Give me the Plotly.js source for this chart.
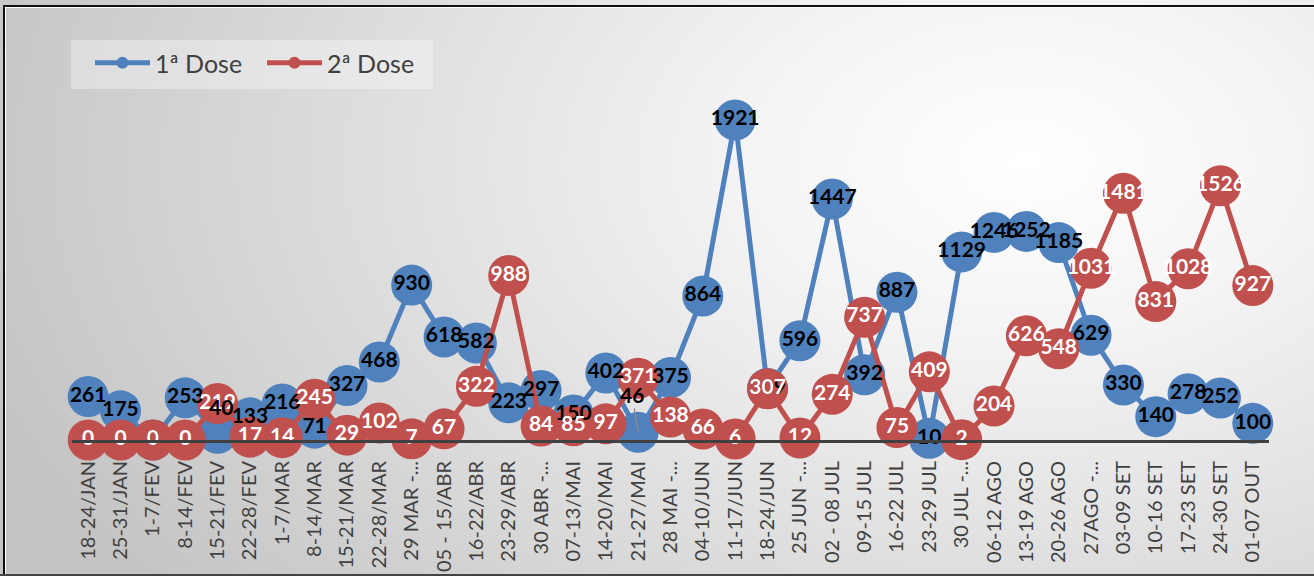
<!DOCTYPE html>
<html>
<head>
<meta charset="utf-8">
<script src="https://cdn.plot.ly/plotly-3.0.1.min.js"></script>
<style>
  html, body { margin: 0; padding: 0; }
  #wrap {
    position: absolute; left: 0; top: 0; width: 1314px; height: 576px; overflow: hidden;
    background: radial-gradient(ellipse 1100px 700px at 78% 28%, #ffffff 0%, #f4f4f4 25%, #c4c4c4 100%);
  }
  #frame1 { position: absolute; left: 3px; top: 5px; right: -10px; bottom: 2px;
    border-top: 2px solid #111; border-left: 2px solid #111; }
  #frame2 { position: absolute; left: 5px; top: 7px; right: -10px; bottom: 2px;
    border-top: 1px solid #fff; border-left: 1px solid #fff; }
  #bottomline { position: absolute; left: 0; right: 0; bottom: 0; height: 2px; background: #444; }
  #chart { position: absolute; left: 0; top: 0; width: 1314px; height: 576px; }
</style>
</head>
<body>
<div id="wrap">
  <div id="frame1"></div>
  <div id="frame2"></div>
  <div id="bottomline"></div>
  <div id="chart"></div>
</div>
<script>
const categories = [
  "18-24/JAN", "25-31/JAN", "1-7/FEV", "8-14/FEV", "15-21/FEV", "22-28/FEV",
  "1-7/MAR", "8-14/MAR", "15-21/MAR", "22-28/MAR", "29 MAR -...", "05 - 15/ABR",
  "16-22/ABR", "23-29/ABR", "30 ABR -...", "07-13/MAI", "14-20/MAI", "21-27/MAI",
  "28 MAI -...", "04-10/JUN", "11-17/JUN", "18-24/JUN", "25 JUN -...", "02 - 08 JUL",
  "09-15 JUL", "16-22 JUL", "23-29 JUL", "30 JUL -...", "06-12 AGO", "13-19 AGO",
  "20-26 AGO", "27AGO -...", "03-09 SET", "10-16 SET", "17-23 SET", "24-30 SET", "01-07 OUT"
];
const dose1 = [261, 175, 0, 253, 40, 133, 216, 71, 327, 468, 930, 618, 582, 223, 297, 150, 402, 46,
  375, 864, 1921, 309, 596, 1447, 392, 887, 10, 1129, 1246, 1252, 1185, 629, 330, 140, 278, 252, 100];
const dose2 = [0, 0, 0, 0, 219, 17, 14, 245, 29, 102, 7, 67, 322, 988, 84, 85, 97, 371,
  138, 66, 6, 307, 12, 274, 737, 75, 409, 2, 204, 626, 548, 1031, 1481, 831, 1028, 1526, 927];
const seriesNames = ["1ª Dose", "2ª Dose"];

const BLUE = "#4F81BD", RED = "#C0504D";
const movedBlue = [4, 17]; // labels drawn as annotations (moved off the marker)

const blueText = dose1.map((v, i) => movedBlue.includes(i) ? "" : String(v));
const redText = dose2.map(v => String(v));

const labelFont = { family: "Lato, 'Open Sans', sans-serif", size: 21, color: "#000000", weight: 700 };

const traces = [
  { x: categories, y: dose1, name: seriesNames[0], type: "scatter", mode: "lines+markers",
    line: { color: BLUE, width: 5 }, marker: { color: BLUE, size: 41 }, cliponaxis: false, hoverinfo: "skip" },
  { x: categories, y: dose2, name: seriesNames[1], type: "scatter", mode: "lines+markers",
    line: { color: RED, width: 5 }, marker: { color: RED, size: 41 }, cliponaxis: false, hoverinfo: "skip" },
  { x: categories, y: dose1, type: "scatter", mode: "text", text: blueText, textposition: "middle center",
    textfont: labelFont, showlegend: false, cliponaxis: false, hoverinfo: "skip" },
  { x: categories, y: dose2, type: "scatter", mode: "text", text: redText, textposition: "middle center",
    textfont: Object.assign({}, labelFont, { color: "#ffffff" }), showlegend: false, cliponaxis: false, hoverinfo: "skip" }
];

const annotations = [
  { x: categories[4], y: dose1[4], text: String(dose1[4]), showarrow: false, xshift: 3, yshift: 27,
    font: labelFont },
  { x: categories[17], y: dose1[17], text: String(dose1[17]), showarrow: true, arrowhead: 0,
    arrowwidth: 1.2, arrowcolor: "#8c8c8c", ax: -6, ay: -38, standoff: 0, font: labelFont }
];

// legend backdrop box (pixel box 71..433 x 40..89 converted to plot-area paper units)
const PL = 72, PW = 1197, PB = 440, PH = 350;
const shapes = [
  { type: "rect", xref: "paper", yref: "paper", layer: "below",
    x0: (71 - PL) / PW, x1: (433 - PL) / PW, y0: (PB - 89) / PH, y1: (PB - 40) / PH,
    fillcolor: "rgba(255,255,255,0.35)", line: { width: 0 } }
];

const layout = {
  width: 1314, height: 576,
  margin: { l: PL, r: 1314 - PL - PW, t: PB - PH, b: 576 - PB },
  paper_bgcolor: "rgba(0,0,0,0)", plot_bgcolor: "rgba(0,0,0,0)",
  showlegend: true,
  legend: {
    xref: "container", yref: "container", x: 90 / 1314, y: 1 - 40 / 576, xanchor: "left", yanchor: "top",
    orientation: "h", bgcolor: "rgba(0,0,0,0)", borderwidth: 0,
    font: { family: "Lato, 'Open Sans', sans-serif", size: 25, color: "#404040" },
    itemwidth: 55, entrywidth: 102, entrywidthmode: "pixels", itemsizing: "constant"
  },
  xaxis: {
    type: "category", showgrid: false, zeroline: false, showline: true, linecolor: "#404040", linewidth: 3,
    ticks: "", tickangle: -90, ticklabelstandoff: 10,
    tickfont: { family: "Lato, 'Open Sans', sans-serif", size: 20, color: "#404040" },
    range: [-0.5, categories.length - 0.5], fixedrange: true
  },
  yaxis: {
    range: [0, 2101], showgrid: false, zeroline: false, showline: false, showticklabels: false,
    ticks: "", fixedrange: true
  },
  shapes: shapes,
  annotations: annotations
};

Plotly.newPlot("chart", traces, layout, { displayModeBar: false, staticPlot: true });
</script>
</body>
</html>
